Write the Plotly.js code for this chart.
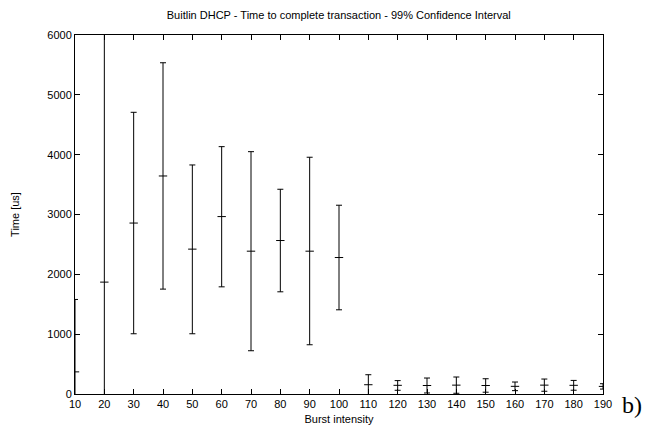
<!DOCTYPE html>
<html>
<head>
<meta charset="utf-8">
<script src="https://cdn.plot.ly/plotly-3.0.1.min.js"></script>
<style>html,body{margin:0;padding:0;background:#fff;}#chart{width:649px;height:437px;}</style>
</head>
<body>
<div id="chart"></div>
<script>
const burst = [10, 20, 30, 40, 50, 60, 70, 80, 90, 100, 110, 120, 130, 140, 150, 160, 170, 180, 190];
const meanTime = [370, 1870, 2857, 3644, 2421, 2965, 2387, 2565, 2387, 2281, 155, 145, 142, 148, 142, 128, 148, 145, 127];
const upperCI = [1580, 6500, 4708, 5536, 3828, 4134, 4050, 3422, 3957, 3155, 322, 224, 267, 284, 255, 200, 250, 227, 172];
const lowerCI = [-840, -2760, 1007, 1753, 1007, 1791, 723, 1708, 823, 1407, -12, 62, 17, 12, 30, 56, 46, 63, 82];
const xTicks = [10, 20, 30, 40, 50, 60, 70, 80, 90, 100, 110, 120, 130, 140, 150, 160, 170, 180, 190];
const yTicks = [0, 1000, 2000, 3000, 4000, 5000, 6000];

const errPlus = upperCI.map((u, i) => u - meanTime[i]);
const errMinus = meanTime.map((m, i) => m - lowerCI[i]);

const trace = {
  x: burst, y: meanTime, type: 'scatter', mode: 'markers',
  marker: {symbol: 'line-ew', size: 6, color: '#000', line: {color: '#000', width: 1}},
  error_y: {type: 'data', symmetric: false, array: errPlus, arrayminus: errMinus,
            color: '#000', thickness: 1, width: 3},
  showlegend: false, cliponaxis: true
};

const font = {family: 'Liberation Sans, Arial, sans-serif', size: 11, color: '#000'};
const layout = {
  width: 649, height: 437,
  margin: {l: 75, r: 46, t: 35, b: 43},
  paper_bgcolor: '#fff', plot_bgcolor: '#fff',
  font: font,
  title: {text: 'Buitlin DHCP - Time to complete transaction - 99% Confidence Interval',
          font: {family: font.family, size: 11, color: '#000'}, x: 0.522, xanchor: 'center', y: 0.965, yanchor: 'middle'},
  xaxis: {range: [10, 190], tickvals: xTicks, ticktext: xTicks.map(String),
          ticks: 'inside', ticklen: 5, tickwidth: 1, tickcolor: '#000',
          showline: true, linecolor: '#000', linewidth: 1, mirror: 'ticks',
          showgrid: false, zeroline: false,
          tickfont: {family: font.family, size: 11, color: '#000'},
          title: {text: 'Burst intensity', standoff: 6, font: {family: font.family, size: 11, color: '#000'}}},
  yaxis: {range: [0, 6000], tickvals: yTicks, ticktext: yTicks.map(String),
          ticks: 'inside', ticklen: 5, tickwidth: 1, tickcolor: '#000',
          showline: true, linecolor: '#000', linewidth: 1, mirror: 'ticks',
          showgrid: false, zeroline: false,
          tickfont: {family: font.family, size: 11, color: '#000'},
          title: {text: 'Time [us]', standoff: 25, font: {family: font.family, size: 11, color: '#000'}}},
  annotations: [{text: 'b)', xref: 'paper', yref: 'paper', x: 1.032, y: -0.03,
                 xanchor: 'left', yanchor: 'middle', showarrow: false,
                 font: {family: 'Liberation Serif, Times New Roman, serif', size: 24, color: '#000'}}]
};
Plotly.newPlot('chart', [trace], layout, {displayModeBar: false, staticPlot: true});
</script>
</body>
</html>
